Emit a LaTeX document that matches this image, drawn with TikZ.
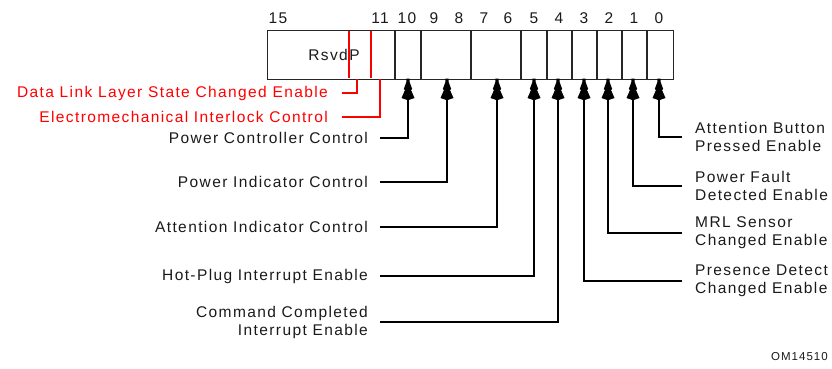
\documentclass[tikz,border=0pt]{standalone}
\usepackage{fontspec}
\setmainfont{Liberation Sans}[LetterSpace=9]
\usetikzlibrary{arrows.meta}
\pgfdeclarearrow{
  name = Bell,
  setup code = {
    \pgfarrowssettipend{0pt}
    \pgfarrowssetlineend{-19pt}
    \pgfarrowssetbackend{-21pt}
  },
  drawing code = {
    \pgfpathmoveto{\pgfqpoint{0.5pt}{1.6pt}}
    \pgfpathlineto{\pgfqpoint{-3pt}{1.6pt}}
    \pgfpathlineto{\pgfqpoint{-10pt}{4.2pt}}
    \pgfpathlineto{\pgfqpoint{-11pt}{3pt}}
    \pgfpathlineto{\pgfqpoint{-19pt}{6.5pt}}
    \pgfpathlineto{\pgfqpoint{-21pt}{0.8pt}}
    \pgfpathlineto{\pgfqpoint{-21pt}{-0.8pt}}
    \pgfpathlineto{\pgfqpoint{-19pt}{-6.5pt}}
    \pgfpathlineto{\pgfqpoint{-11pt}{-3pt}}
    \pgfpathlineto{\pgfqpoint{-10pt}{-4.2pt}}
    \pgfpathlineto{\pgfqpoint{-3pt}{-1.6pt}}
    \pgfpathlineto{\pgfqpoint{0.5pt}{-1.6pt}}
    \pgfpathclose
    \pgfusepathqfill
  }
}
\definecolor{txt}{HTML}{1A1A1A}
\definecolor{rd}{HTML}{FF0000}
\tikzset{
  lbl/.style={font=\fontsize{15.5}{18}\selectfont, text=txt, inner sep=0pt},
  llbl/.style={lbl, anchor=east, align=right},
  rlbl/.style={lbl, anchor=west, align=left},
  redlbl/.style={lbl, anchor=east, text=rd},
  bitnum/.style={lbl, anchor=center},
  conn/.style={draw=black, line width=1.4pt, -{Bell}},
  redconn/.style={draw=rd, line width=1.8pt},
  divider/.style={draw=black!85, line width=1.4pt},
  reddiv/.style={draw=rd, line width=1.3pt},
}
\begin{document}
\begin{tikzpicture}[x=1pt, y=-1pt]
\useasboundingbox (0,0) rectangle (832,369);
% register box
\node[draw=black!85, line width=1.4pt, minimum width=406pt, minimum height=49pt, inner sep=0pt, anchor=north west] (reg) at (267,30) {};
\foreach \x in {395,421,471,521,547,572,597,622,647}
  \draw[divider] (\x,30) -- (\x,79);
\foreach \x in {349,371}
  \draw[reddiv] (\x,30.7) -- (\x,78.3);
\node[lbl] (rsvd) at (334,55) {RsvdP};
% bit numbers
\foreach \n/\x in {15/278, 11/380, 10/407, 9/434, 8/459, 7/484, 6/508, 5/534, 4/559, 3/584, 2/609, 1/634, 0/659}
  \node[bitnum] (n\n) at (\x,18.5) {\n};
% bit coordinates at box bottom
\coordinate (b12) at (357,79);
\coordinate (b11) at (380,79);
\coordinate (b10) at (408,79);
\coordinate (b98) at (447,79);
\coordinate (b76) at (497,79);
\coordinate (b5) at (534,79);
\coordinate (b4) at (558,79);
\coordinate (b3) at (584,79);
\coordinate (b2) at (608,79);
\coordinate (b1) at (633,79);
\coordinate (b0) at (659,79);
% red labels
\node[redlbl] (ldll) at (328,93) {Data Link Layer State Changed Enable};
\node[redlbl] (lemi) at (328,117) {Electromechanical Interlock Control};
\draw[redconn] (b12) |- ([xshift=14pt]ldll.east);
\draw[redconn] (b11) |- ([xshift=14pt]lemi.east);
% left labels
\node[llbl] (lpcc) at (368,138) {Power Controller Control};
\node[llbl] (lpic) at (368,182) {Power Indicator Control};
\node[llbl] (laic) at (368,227) {Attention Indicator Control};
\node[llbl] (lhpi) at (368,276) {Hot-Plug Interrupt Enable};
\node[llbl] (lcci) at (368,322) {Command Completed\\Interrupt Enable};
\draw[conn] ([xshift=12pt]lpcc.east) -| (b10);
\draw[conn] ([xshift=12pt]lpic.east) -| (b98);
\draw[conn] ([xshift=12pt]laic.east) -| (b76);
\draw[conn] ([xshift=12pt]lhpi.east) -| (b5);
\draw[conn] ([xshift=12pt]lcci.east) -| (b4);
% right labels
\node[rlbl] (labp) at (695,137) {Attention Button\\Pressed Enable};
\node[rlbl] (lpfd) at (695,186) {Power Fault\\Detected Enable};
\node[rlbl] (lmrl) at (695,233) {MRL Sensor\\Changed Enable};
\node[rlbl] (lpdc) at (695,281) {Presence Detect\\Changed Enable};
\draw[conn] ([xshift=-13pt]labp.west) -| (b0);
\draw[conn] ([xshift=-13pt]lpfd.west) -| (b1);
\draw[conn] ([xshift=-13pt]lmrl.west) -| (b2);
\draw[conn] ([xshift=-13pt]lpdc.west) -| (b3);
% figure id
\node[lbl, font=\fontsize{11.5}{13}\selectfont, anchor=east] (fid) at (828,357) {OM14510};
\end{tikzpicture}
\end{document}
